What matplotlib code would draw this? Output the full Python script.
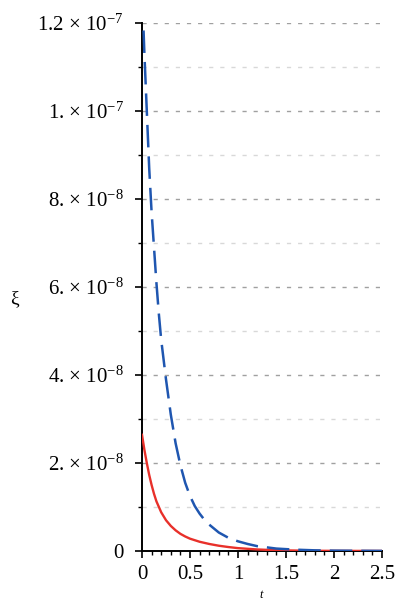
"""
plot.py
Decay of xi(t) for two cases: solid red and dashed blue curves,
Maple-style axes with scientific y tick labels.
Output: out.png
"""

import matplotlib
matplotlib.use("Agg")
import matplotlib.pyplot as plt
from matplotlib.ticker import FixedLocator, MultipleLocator

# ---- data (values in units of 1e-8) ----------------------------------------
t_red = [0.0, 0.025, 0.05, 0.075, 0.1, 0.125, 0.15, 0.2, 0.25, 0.3, 0.35,
         0.4, 0.45, 0.5, 0.6, 0.7, 0.8, 0.9, 1.0, 1.2, 1.4, 1.6, 1.8, 2.0,
         2.5]
xi_red = [2.64, 2.30, 2.0, 1.73, 1.50, 1.30, 1.13, 0.88, 0.70, 0.57, 0.47,
          0.39, 0.33, 0.28, 0.21, 0.16, 0.12, 0.09, 0.065, 0.035, 0.018,
          0.010, 0.005, 0.003, 0.001]

t_blue = [0.0, 0.025, 0.05, 0.075, 0.1, 0.125, 0.15, 0.175, 0.2, 0.25, 0.3,
          0.35, 0.4, 0.45, 0.5, 0.55, 0.6, 0.65, 0.7, 0.8, 0.9, 1.0, 1.1,
          1.2, 1.4, 1.6, 1.8, 2.0, 2.5]
xi_blue = [12.8, 11.3, 10.0, 8.7, 7.7, 6.9, 6.1, 5.4, 4.8, 3.9, 3.1, 2.45,
           1.95, 1.55, 1.25, 1.02, 0.85, 0.71, 0.60, 0.42, 0.30, 0.22, 0.16,
           0.11, 0.055, 0.03, 0.015, 0.008, 0.002]

y_major = [0, 2e-8, 4e-8, 6e-8, 8e-8, 1e-7, 1.2e-7]
y_major_labels = ["0", "2. × 10$^{-8}$", "4. × 10$^{-8}$", "6. × 10$^{-8}$",
                  "8. × 10$^{-8}$", "1. × 10$^{-7}$", "1.2 × 10$^{-7}$"]
y_minor = [1e-8, 3e-8, 5e-8, 7e-8, 9e-8, 1.1e-7]
x_major = [0, 0.5, 1, 1.5, 2, 2.5]
x_major_labels = ["0", "0.5", "1", "1.5", "2", "2.5"]

plt.rcParams["font.family"] = ["Liberation Serif", "DejaVu Serif"]
plt.rcParams["mathtext.fontset"] = "custom"
plt.rcParams["mathtext.rm"] = "Liberation Serif"
plt.rcParams["mathtext.it"] = "Liberation Serif:italic"
plt.rcParams["mathtext.default"] = "regular"

fig = plt.figure(figsize=(3.96, 6.02), dpi=100)
ax = fig.add_axes([142 / 396, 1 - 551 / 602, 240 / 396, 528 / 602])

scale = 1e-8
ax.plot(t_red, [v * scale for v in xi_red], color="#e8302a", lw=1.7,
        zorder=3)
ax.plot(t_blue, [v * scale for v in xi_blue], color="#1f56b0", lw=1.8,
        dashes=(9.0, 3.6), zorder=3)

ax.set_xlim(0, 2.5)
ax.set_ylim(0, 1.2e-7)

ax.yaxis.set_major_locator(FixedLocator(y_major))
ax.set_yticklabels(y_major_labels)
ax.yaxis.set_minor_locator(FixedLocator(y_minor))
ax.xaxis.set_major_locator(FixedLocator(x_major))
ax.set_xticklabels(x_major_labels)
ax.xaxis.set_minor_locator(MultipleLocator(0.1))

ax.tick_params(axis="both", which="major", direction="out", length=5,
               width=1.2, labelsize=15, color="black")
ax.tick_params(axis="both", which="minor", direction="out", length=3,
               width=1.0, color="black")
ax.tick_params(axis="y", which="major", pad=8)
ax.tick_params(axis="x", which="major", pad=5)

# dashed horizontal grid: darker at majors, lighter at minors
ax.grid(axis="y", which="major", color="#a0a0a0", ls=(0, (3, 5)), lw=1.0)
ax.grid(axis="y", which="minor", color="#d8d8d8", ls=(0, (3, 5)), lw=1.0)
ax.grid(axis="x", which="both", visible=False)

for side in ("top", "right"):
    ax.spines[side].set_visible(False)
for side in ("left", "bottom"):
    ax.spines[side].set_linewidth(1.4)

ax.set_xlabel("$\\mathit{t}$", fontsize=9)
ax.set_ylabel("ξ", fontsize=14, rotation=0, va="center", ha="center")
ax.yaxis.set_label_coords(-0.53, 0.478)
ax.xaxis.set_label_coords(0.5, -0.072)

fig.savefig("out.png", dpi=100)
